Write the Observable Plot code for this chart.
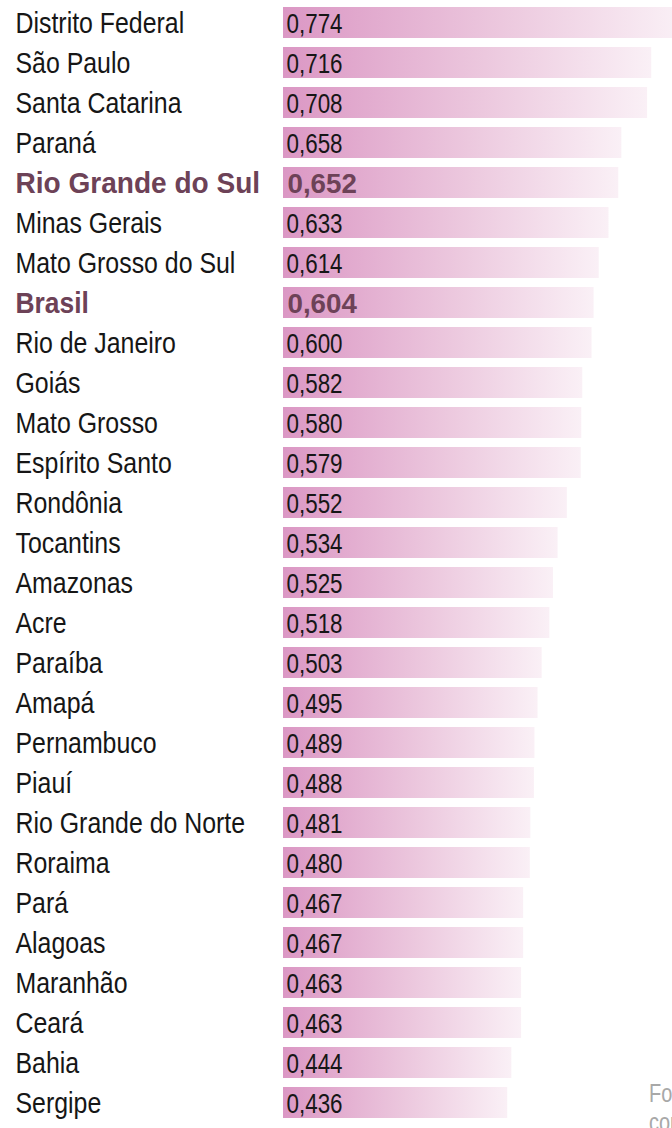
<!DOCTYPE html>
<html>
<head>
<meta charset="utf-8">
<script src="https://cdn.jsdelivr.net/npm/d3@7"></script>
<script src="https://cdn.jsdelivr.net/npm/@observablehq/plot@0.6"></script>
<style>
  html, body { margin: 0; padding: 0; background: #fff; overflow: hidden; width: 672px; height: 1128px; }
  #wrap { position: relative; width: 672px; height: 1128px; overflow: hidden; }
  #caption { position: absolute; left: 649px; top: 1079px; width: 500px; font-family: "Liberation Sans", sans-serif; font-size: 25px; line-height: 29px; color: #a8a8a8; white-space: nowrap; transform: scaleX(0.8); transform-origin: 0 0; }
</style>
</head>
<body>
<div id="wrap"><div id="chart"></div><div id="caption">Fonte: Atlas do Desenvolvimento Humano<br>com base em dados do IBGE</div></div>
<script>
const states = ["Distrito Federal","São Paulo","Santa Catarina","Paraná","Rio Grande do Sul","Minas Gerais","Mato Grosso do Sul","Brasil","Rio de Janeiro","Goiás","Mato Grosso","Espírito Santo","Rondônia","Tocantins","Amazonas","Acre","Paraíba","Amapá","Pernambuco","Piauí","Rio Grande do Norte","Roraima","Pará","Alagoas","Maranhão","Ceará","Bahia","Sergipe"];
const values = [0.774,0.716,0.708,0.658,0.652,0.633,0.614,0.604,0.600,0.582,0.580,0.579,0.552,0.534,0.525,0.518,0.503,0.495,0.489,0.488,0.481,0.480,0.467,0.467,0.463,0.463,0.444,0.436];
const highlighted = ["Rio Grande do Sul","Brasil"];

const data = states.map((s, i) => ({name: s, value: values[i], label: values[i].toFixed(3).replace(".", ","), bold: highlighted.includes(s)}));
const font = '"Liberation Sans", Arial, sans-serif';

const chart = Plot.plot({
  width: 672,
  height: 1128,
  marginTop: 0, marginBottom: 0, marginLeft: 283, marginRight: 0,
  style: {fontFamily: font, background: "transparent"},
  x: {domain: [0, 0.774], range: [283, 681], axis: null},
  y: {domain: states, range: [6.7, 1128.5], paddingInner: 0.233, paddingOuter: 0, align: 0, axis: null},
  marks: [
    Plot.barX(data, {y: "name", x: "value", x1: 0, fill: "url(#barGrad)"}),
    Plot.text(data.filter(d => !d.bold), {y: "name", text: "name", frameAnchor: "left", textAnchor: "start", dx: -268, fontSize: 30, fill: "#161616"}),
    Plot.text(data.filter(d => d.bold), {y: "name", text: "name", frameAnchor: "left", textAnchor: "start", dx: -268, fontSize: 30, fontWeight: "bold", fill: "#6d4257"}),
    Plot.text(data.filter(d => !d.bold), {y: "name", text: "label", frameAnchor: "left", textAnchor: "start", dx: 3, dy: 1, fontSize: 27, fill: "#161616"}),
    Plot.text(data.filter(d => d.bold), {y: "name", text: "label", frameAnchor: "left", textAnchor: "start", dx: 4, dy: 1, fontSize: 28, fontWeight: "bold", fill: "#6d4257"})
  ]
});

// horizontal condensing of the text, to mimic the condensed typeface
const scales = [0.83, 0.92, 0.83, 0.99];
chart.querySelectorAll('g[aria-label="text"]').forEach((g, k) => {
  g.querySelectorAll("text").forEach(t => {
    let s = scales[k];
    if (k === 1) s = t.textContent.length > 8 ? 0.935 : 0.88;
    const tr = t.getAttribute("transform") || "";
    t.setAttribute("transform", tr + ` scale(${s},1)`);
  });
});

const svg = d3.select(chart);
const grad = svg.insert("defs", ":first-child").append("linearGradient").attr("id", "barGrad").attr("x1", 0).attr("x2", 1).attr("y1", 0).attr("y2", 0);
grad.append("stop").attr("offset", "0%").attr("stop-color", "#db97c4");
grad.append("stop").attr("offset", "55%").attr("stop-color", "#ecc8de");
grad.append("stop").attr("offset", "100%").attr("stop-color", "#faf0f6");
document.getElementById("chart").appendChild(chart);
</script>
</body>
</html>
